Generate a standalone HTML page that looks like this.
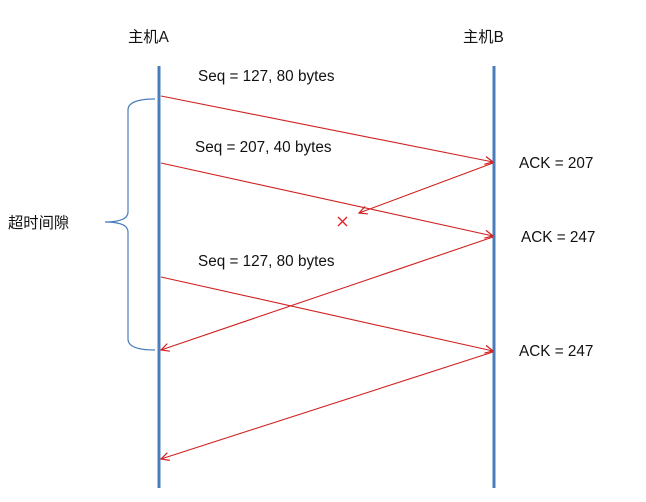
<!DOCTYPE html>
<html><head><meta charset="utf-8"><style>body{margin:0;background:#fff}svg{display:block}text{font-family:"Liberation Sans","Noto Sans CJK SC",sans-serif;font-size:15.3px;fill:#111}</style></head>
<body><svg width="646" height="502" viewBox="0 0 646 502">
<defs><marker id="a" markerWidth="10" markerHeight="10" refX="9" refY="5" orient="auto" markerUnits="userSpaceOnUse"><path d="M1,1 L9,5 L1,9" fill="none" stroke="#d02020" stroke-width="1.2"/></marker></defs>
<line x1="159" y1="66" x2="159" y2="488" stroke="#4a7ebb" stroke-width="3"/>
<line x1="494" y1="66" x2="494" y2="488" stroke="#4a7ebb" stroke-width="3"/>
<g stroke="#d02020" stroke-width="1.1" fill="none" marker-end="url(#a)">
<line x1="161" y1="96" x2="493" y2="162"/>
<line x1="161" y1="163" x2="493" y2="236"/>
<line x1="493" y1="163" x2="359" y2="213"/>
<line x1="493" y1="237" x2="161" y2="350"/>
<line x1="161" y1="277" x2="493" y2="351"/>
<line x1="493" y1="352" x2="161" y2="459"/>
</g>
<path d="M338,217 L347,226 M347,217 L338,226" stroke="#e02020" stroke-width="1.3"/>
<path d="M155,99 Q128,99 128,110 L128,212 Q128,222 105,222 Q128,222 128,232 L128,339 Q128,350 155,350" fill="none" stroke="#4a7ebb" stroke-width="1.2"/>
<text x="128" y="42">主机A</text>
<text x="463" y="42">主机B</text>
<text x="198" y="81">Seq = 127, 80 bytes</text>
<text x="195" y="152">Seq = 207, 40 bytes</text>
<text x="198" y="266">Seq = 127, 80 bytes</text>
<text x="519" y="168">ACK = 207</text>
<text x="521" y="242">ACK = 247</text>
<text x="519" y="356">ACK = 247</text>
<text x="8" y="228">超时间隙</text>
</svg></body></html>
